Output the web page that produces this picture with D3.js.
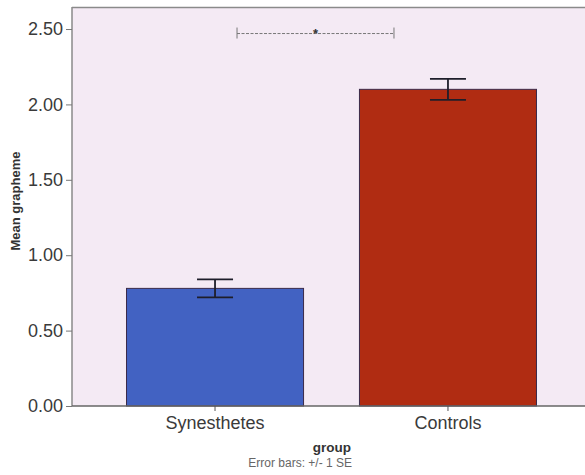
<!DOCTYPE html>
<html>
<head>
<meta charset="utf-8">
<script src="https://cdn.jsdelivr.net/npm/d3@7"></script>
<style>
  body { margin: 0; background: #fff; overflow: hidden; }
  svg { display: block; font-family: Arial, "Liberation Sans", sans-serif; }
</style>
</head>
<body>
<div id="chart"></div>
<script>
const width = 585
const height = 475
const margin = { top: 7, bottom: 69, left: 72, right: 0 }

// data
const groups = ["Synesthetes", "Controls"]
const means = [0.78, 2.10]
const se = [0.06, 0.07]
const colors = ["#4262c2", "#b02c12"]
const yTicks = [0, 0.5, 1.0, 1.5, 2.0, 2.5]
const sigLabel = "*"

// svg a bit wider than the window so the plot runs off the right edge
const svg = d3.select("#chart").append("svg").attr("width", width + 15).attr("height", height)

const plotBottom = height - margin.bottom  // 406
const plotRight = width + 15

const y = d3.scaleLinear().domain([0, 2.646]).range([plotBottom, margin.top])
const x = d3.scaleBand().domain(groups).range([72, 591]).paddingInner(0.24).paddingOuter(0.234)

// plot background
svg.append("rect")
    .attr("x", margin.left).attr("y", margin.top)
    .attr("width", plotRight - margin.left).attr("height", plotBottom - margin.top)
    .attr("fill", "#f4eaf4")

// frame top line
svg.append("line")
    .attr("x1", margin.left).attr("x2", plotRight)
    .attr("y1", margin.top + 0.5).attr("y2", margin.top + 0.5)
    .attr("stroke", "#8a8a8a").attr("stroke-width", 1.5)

// bars
const bars = svg.append("g")
groups.forEach((g, i) => {
    bars.append("rect")
        .attr("x", x(g)).attr("y", y(means[i]))
        .attr("width", x.bandwidth()).attr("height", plotBottom - y(means[i]))
        .attr("fill", colors[i])
        .attr("stroke", "#3a2a4a").attr("stroke-width", 1)
})

// error bars
const err = svg.append("g").attr("stroke", "#1e1e2a").attr("stroke-width", 1.8)
const capW = 18
groups.forEach((g, i) => {
    const cx = x(g) + x.bandwidth() / 2
    const hi = y(means[i] + se[i]), lo = y(means[i] - se[i])
    err.append("line").attr("x1", cx).attr("x2", cx).attr("y1", hi).attr("y2", lo)
    err.append("line").attr("x1", cx - capW).attr("x2", cx + capW).attr("y1", hi).attr("y2", hi)
    err.append("line").attr("x1", cx - capW).attr("x2", cx + capW).attr("y1", lo).attr("y2", lo)
})

// significance bracket
const c0 = x(groups[0]) + x.bandwidth() / 2
const c1 = x(groups[1]) + x.bandwidth() / 2
const bx0 = c0 + 22, bx1 = c1 - 54, by = y(2.47)
const sig = svg.append("g").attr("stroke", "#777").attr("stroke-width", 1)
sig.append("line").attr("x1", bx0).attr("x2", bx1).attr("y1", by).attr("y2", by)
    .attr("stroke-dasharray", "3,1.5")
sig.append("line").attr("x1", bx0).attr("x2", bx0).attr("y1", by - 6).attr("y2", by + 5)
sig.append("line").attr("x1", bx1).attr("x2", bx1).attr("y1", by - 6).attr("y2", by + 5)
svg.append("text")
    .attr("x", (bx0 + bx1) / 2).attr("y", by + 4)
    .attr("text-anchor", "middle").attr("font-size", 13).attr("font-weight", "bold").attr("fill", "#333")
    .text(sigLabel)

// axes
const yAxis = d3.axisLeft(y).tickValues(yTicks).tickFormat(d3.format(".2f")).tickSize(6).tickPadding(3)
const yAxisGroup = svg.append("g").attr("transform", `translate(${margin.left}, 0)`).call(yAxis)
yAxisGroup.select(".domain").attr("stroke", "#8a8a8a").attr("stroke-width", 1.5)
    .attr("d", `M0,${margin.top}V${plotBottom}`)
yAxisGroup.selectAll(".tick line").attr("stroke", "#777")
yAxisGroup.selectAll(".tick text").attr("font-size", 18).attr("fill", "#3a3a3a")

const xAxis = d3.axisBottom(x).tickSize(5).tickPadding(5)
const xAxisGroup = svg.append("g").attr("transform", `translate(0, ${plotBottom})`).call(xAxis)
xAxisGroup.select(".domain").attr("stroke", "#666").attr("stroke-width", 1.5)
    .attr("d", `M${margin.left},0H${plotRight}`)
xAxisGroup.selectAll(".tick line").attr("stroke", "#555")
xAxisGroup.selectAll(".tick text").attr("font-size", 18).attr("fill", "#3a3a3a")

// titles
svg.append("text")
    .attr("x", 351).attr("y", 452)
    .attr("text-anchor", "end").attr("font-size", 13.5).attr("font-weight", "bold").attr("fill", "#333")
    .text("group")
svg.append("text")
    .attr("x", 352).attr("y", 467)
    .attr("text-anchor", "end").attr("font-size", 12).attr("fill", "#666")
    .text("Error bars: +/- 1 SE")
svg.append("text")
    .attr("transform", "translate(20, 201) rotate(-90)")
    .attr("text-anchor", "middle").attr("font-size", 13).attr("font-weight", "bold").attr("fill", "#333")
    .text("Mean grapheme")
</script>
</body>
</html>
